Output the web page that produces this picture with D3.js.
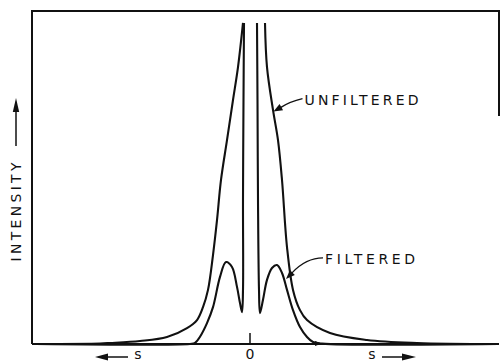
<!DOCTYPE html>
<html>
<head>
<meta charset="utf-8">
<script src="https://cdn.jsdelivr.net/npm/d3@7"></script>
<style>
  html, body { margin: 0; padding: 0; background: #fff; }
  svg { display: block; }
  text { font-family: "DejaVu Sans", "Liberation Sans", sans-serif; fill: #111; }
</style>
</head>
<body>
<svg id="chart" width="500" height="363"></svg>
<script>
// Intensity profiles versus s (arbitrary units), centre line at s = 0.
// null separates the two branches that run off the top of the frame.
const sUnfiltered = [-4.28, -3.0, -2.8, -2.2, -1.66, -1.26, -1.06, -0.94, -0.84, -0.74, -0.66, -0.58, -0.46, -0.34, -0.24, -0.14,
                     null,
                     0.30, 0.34, 0.46, 0.56, 0.64, 0.74, 0.86, 1.0, 1.14, 1.6, 2.34, 3.34, 4.96];
const iUnfiltered = [0, 0.15, 0.3, 0.9, 2.1, 4.8, 7.2, 11.1, 16.3, 26.8, 37.3, 49.4, 61.4, 73.5, 83.4, 96.7,
                     null,
                     96.7, 83.4, 70.5, 61.4, 49.4, 29.2, 16.3, 10.2, 7.2, 3.3, 1.2, 0.3, 0];

const sFiltered = [-4.28, -1.2, -1.1, -1.0, -0.86, -0.74, -0.6, -0.48, -0.36, -0.26, -0.2, -0.16, -0.14, -0.14, -0.13, -0.12,
                   null,
                   0.14, 0.15, 0.16, 0.18, 0.2, 0.26, 0.34, 0.44, 0.54, 0.64, 0.74, 0.86, 1.0, 1.14, 1.26, 1.44, 4.96];
const iFiltered = [0, 0, 0.3, 2.2, 6.3, 11.1, 20.2, 24.7, 23.2, 17.2, 12.3, 9.6, 16.3, 43.4, 73.5, 96.7,
                   null,
                   96.7, 73.5, 43.4, 16.3, 9.3, 13.3, 19.3, 22.9, 23.8, 21.4, 16.3, 10.2, 5.1, 2.1, 0.6, 0.1, 0];

const seriesNames = ["UNFILTERED", "FILTERED"];
const xTickLabels = ["s", "0", "s"];
const xTickValues = [-2.24, 0, 2.44];
const yTitle = "INTENSITY";

const svg = d3.select("#chart");
const ink = "#111";

const x = d3.scaleLinear().domain([-4.36, 4.98]).range([32, 499]);
const y = d3.scaleLinear().domain([0, 100]).range([344, 12]);

// frame: left, top, bottom, and the short upper part of the right edge
const frame = svg.append("g").attr("stroke", ink).attr("stroke-width", 2).attr("fill", "none");
frame.append("path").attr("d", `M${x.range()[0]},${y(0)}V11H${x.range()[1]}V116`);
frame.append("line").attr("x1", x.range()[0]).attr("x2", x.range()[1]).attr("y1", y(0)).attr("y2", y(0));

// zero tick
svg.append("line").attr("x1", x(0)).attr("x2", x(0)).attr("y1", y(0)).attr("y2", y(0) - 11)
  .attr("stroke", ink).attr("stroke-width", 1.5);

const line = d3.line()
  .defined(d => d[0] !== null)
  .x(d => x(d[0])).y(d => y(d[1]))
  .curve(d3.curveCatmullRom.alpha(0.5));

const zip = (a, b) => a.map((v, i) => [v, b[i]]);
svg.append("path").datum(zip(sUnfiltered, iUnfiltered))
  .attr("d", line).attr("fill", "none").attr("stroke", ink).attr("stroke-width", 2.1);
svg.append("path").datum(zip(sFiltered, iFiltered))
  .attr("d", line).attr("fill", "none").attr("stroke", ink).attr("stroke-width", 2.1);

// filled arrowhead whose tip is at (tx, ty), pointing along angle (radians)
function arrowHead(tx, ty, angle, len, half) {
  const bx = tx - len * Math.cos(angle), by = ty - len * Math.sin(angle);
  const px = -Math.sin(angle) * half, py = Math.cos(angle) * half;
  svg.append("path")
    .attr("d", `M${tx},${ty}L${bx + px},${by + py}L${bx - px},${by - py}Z`)
    .attr("fill", ink);
}

// series labels with leader arrows
const unfTip = [x(0.47), y(70.0)];
svg.append("path")
  .attr("d", `M${unfTip[0] + 29},${unfTip[1] - 13} Q${unfTip[0] + 16},${unfTip[1] - 10} ${unfTip[0] + 7},${unfTip[1] - 4}`)
  .attr("fill", "none").attr("stroke", ink).attr("stroke-width", 1.3);
arrowHead(unfTip[0], unfTip[1], Math.atan2(4, -7), 9, 3.5);
svg.append("text").attr("x", unfTip[0] + 31).attr("y", unfTip[1] - 7)
  .attr("font-size", 14).attr("textLength", 114).attr("lengthAdjust", "spacing")
  .text(seriesNames[0]);

const filTip = [x(0.72), y(19.6)];
svg.append("path")
  .attr("d", `M${filTip[0] + 37},${filTip[1] - 21} Q${filTip[0] + 20},${filTip[1] - 21} ${filTip[0] + 6},${filTip[1] - 6}`)
  .attr("fill", "none").attr("stroke", ink).attr("stroke-width", 1.3);
arrowHead(filTip[0], filTip[1], Math.atan2(6, -6), 9, 3.5);
svg.append("text").attr("x", filTip[0] + 39).attr("y", filTip[1] - 15)
  .attr("font-size", 14).attr("textLength", 90).attr("lengthAdjust", "spacing")
  .text(seriesNames[1]);

// small arrowhead resting on the baseline
arrowHead(x(1.44), y(0) - 0.5, 0, 7, 2.5);

// x labels: "← s", "0", "s →"
svg.append("text").attr("x", x(xTickValues[1])).attr("y", 359).attr("text-anchor", "middle")
  .attr("font-size", 14).text(xTickLabels[1]);
svg.append("text").attr("x", x(xTickValues[0])).attr("y", 359).attr("text-anchor", "middle")
  .attr("font-size", 14).text(xTickLabels[0]);
svg.append("text").attr("x", x(xTickValues[2])).attr("y", 359).attr("text-anchor", "middle")
  .attr("font-size", 14).text(xTickLabels[2]);

const lx = x(xTickValues[0]);
svg.append("line").attr("x1", lx - 10).attr("x2", lx - 30).attr("y1", 357).attr("y2", 357)
  .attr("stroke", ink).attr("stroke-width", 1.5);
arrowHead(lx - 43, 357, Math.PI, 13, 3.5);
const rx = x(xTickValues[2]);
svg.append("line").attr("x1", rx + 10).attr("x2", rx + 30).attr("y1", 357).attr("y2", 357)
  .attr("stroke", ink).attr("stroke-width", 1.5);
arrowHead(rx + 44, 357, 0, 14, 3.5);

// y title with upward arrow
svg.append("text")
  .attr("transform", `translate(21,${212}) rotate(-90)`)
  .attr("text-anchor", "middle").attr("font-size", 14)
  .attr("textLength", 99).attr("lengthAdjust", "spacing")
  .text(yTitle);
svg.append("line").attr("x1", 16).attr("x2", 16).attr("y1", 146).attr("y2", 110)
  .attr("stroke", ink).attr("stroke-width", 1.5);
arrowHead(16, 98, -Math.PI / 2, 14, 3.2);
</script>
</body>
</html>
